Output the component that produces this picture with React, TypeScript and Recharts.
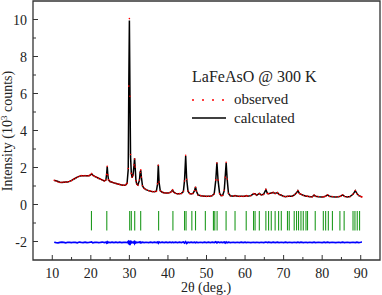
import React from 'react';
import { ComposedChart, Line, XAxis, YAxis, ReferenceLine, ReferenceArea } from 'recharts';

// [2θ, observed, calculated, difference (offset)]
const profile: [number, number, number, number][] = [
  [10.5, 1.31, 1.3, -2.04], [11.0, 1.27, 1.28, -2.06], [11.5, 1.22, 1.24, -2.07], [12.0, 1.19, 1.2, -2.05],
  [12.5, 1.2, 1.19, -2.03], [13.0, 1.21, 1.2, -2.05], [13.5, 1.2, 1.21, -2.07], [14.0, 1.23, 1.22, -2.04],
  [14.5, 1.26, 1.25, -2.05], [15.0, 1.29, 1.3, -2.06], [15.5, 1.37, 1.36, -2.04], [16.0, 1.42, 1.42, -2.05],
  [16.5, 1.47, 1.48, -2.07], [17.0, 1.53, 1.52, -2.03], [17.5, 1.56, 1.55, -2.05], [18.0, 1.55, 1.56, -2.06],
  [18.5, 1.57, 1.56, -2.04], [19.0, 1.54, 1.55, -2.06], [19.5, 1.56, 1.56, -2.05], [19.8, 1.59, 1.58, -2.04],
  [20.2, 1.67, 1.66, -2.02], [20.5, 1.57, 1.58, -2.07], [21.0, 1.52, 1.52, -2.05], [21.5, 1.48, 1.47, -2.04],
  [22.0, 1.41, 1.42, -2.06], [22.5, 1.37, 1.37, -2.05], [23.0, 1.33, 1.32, -2.03], [23.5, 1.27, 1.28, -2.06],
  [23.9, 1.33, 1.32, -2.04], [24.1, 1.63, 1.65, -2.08], [24.25, 2.07, 2.05, -2.02], [24.4, 1.6, 1.62, -2.07],
  [24.6, 1.33, 1.32, -2.04], [25.0, 1.23, 1.24, -2.06], [25.5, 1.21, 1.2, -2.04], [26.0, 1.16, 1.17, -2.06],
  [26.5, 1.15, 1.14, -2.04], [27.0, 1.1, 1.11, -2.06], [27.5, 1.09, 1.08, -2.04], [28.0, 1.05, 1.06, -2.06],
  [28.5, 1.04, 1.04, -2.05], [29.0, 1.06, 1.05, -2.04], [29.4, 1.14, 1.15, -2.06], [29.7, 1.95, 1.9, -2.0],
  [29.85, 6.4, 6.5, -2.15], [30.0, 10.05, 9.95, -1.95], [30.15, 5.85, 6.0, -2.2], [30.3, 2.7, 2.6, -1.95],
  [30.5, 1.68, 1.7, -2.07], [30.7, 1.47, 1.45, -2.03], [30.95, 1.58, 1.6, -2.07], [31.2, 2.14, 2.1, -2.01],
  [31.35, 2.46, 2.5, -2.1], [31.5, 2.03, 2.0, -2.02], [31.7, 1.28, 1.3, -2.07], [31.9, 1.11, 1.1, -2.04],
  [32.2, 1.04, 1.05, -2.06], [32.6, 1.32, 1.3, -2.03], [32.8, 1.73, 1.75, -2.07], [32.95, 1.87, 1.85, -2.03],
  [33.1, 1.48, 1.5, -2.07], [33.4, 1.01, 1.0, -2.04], [33.8, 0.87, 0.88, -2.06], [34.3, 0.81, 0.8, -2.04],
  [35.0, 0.74, 0.75, -2.06], [35.5, 0.73, 0.72, -2.04], [36.0, 0.69, 0.7, -2.06], [36.5, 0.7, 0.69, -2.04],
  [37.0, 0.71, 0.72, -2.06], [37.3, 1.12, 1.1, -2.03], [37.5, 2.12, 2.15, -2.09], [37.7, 1.22, 1.2, -2.02],
  [38.0, 0.74, 0.75, -2.06], [38.5, 0.67, 0.66, -2.04], [39.0, 0.62, 0.63, -2.06], [39.5, 0.63, 0.62, -2.04],
  [40.0, 0.61, 0.62, -2.06], [40.5, 0.65, 0.64, -2.04], [40.9, 0.69, 0.7, -2.06], [41.2, 0.79, 0.78, -2.04],
  [41.5, 0.66, 0.67, -2.06], [42.0, 0.61, 0.6, -2.04], [42.5, 0.57, 0.58, -2.06], [43.0, 0.59, 0.58, -2.04],
  [43.5, 0.59, 0.6, -2.06], [44.0, 0.72, 0.7, -2.03], [44.3, 1.27, 1.3, -2.08], [44.6, 2.66, 2.62, -2.01],
  [44.85, 1.36, 1.4, -2.1], [45.2, 0.73, 0.72, -2.04], [45.6, 0.59, 0.6, -2.06], [46.0, 0.58, 0.57, -2.04],
  [46.5, 0.59, 0.6, -2.06], [46.9, 0.76, 0.75, -2.04], [47.15, 0.93, 0.95, -2.07], [47.4, 0.73, 0.72, -2.04],
  [47.8, 0.51, 0.52, -2.06], [48.5, 0.48, 0.47, -2.04], [49.0, 0.45, 0.46, -2.06], [49.5, 0.46, 0.45, -2.04],
  [50.0, 0.43, 0.44, -2.06], [50.5, 0.45, 0.44, -2.04], [51.0, 0.44, 0.45, -2.06], [51.5, 0.49, 0.48, -2.04],
  [52.0, 0.57, 0.58, -2.06], [52.4, 1.33, 1.3, -2.02], [52.7, 2.24, 2.27, -2.08], [53.0, 1.32, 1.3, -2.03],
  [53.4, 0.59, 0.6, -2.06], [53.8, 0.49, 0.48, -2.04], [54.2, 0.49, 0.5, -2.06], [54.6, 0.77, 0.75, -2.03],
  [54.85, 1.47, 1.5, -2.08], [55.1, 2.28, 2.25, -2.02], [55.35, 1.38, 1.4, -2.07], [55.7, 0.61, 0.6, -2.04],
  [56.2, 0.46, 0.47, -2.06], [57.0, 0.46, 0.45, -2.04], [57.4, 0.47, 0.48, -2.06], [58.0, 0.46, 0.45, -2.04],
  [58.5, 0.43, 0.44, -2.06], [59.0, 0.45, 0.44, -2.04], [59.5, 0.43, 0.44, -2.06], [60.0, 0.46, 0.45, -2.04],
  [60.3, 0.47, 0.48, -2.06], [60.7, 0.46, 0.45, -2.04], [61.5, 0.47, 0.48, -2.06], [62.2, 0.59, 0.58, -2.04],
  [62.6, 0.57, 0.58, -2.06], [63.0, 0.51, 0.5, -2.04], [63.7, 0.59, 0.6, -2.06], [64.2, 0.53, 0.52, -2.04],
  [64.8, 0.54, 0.55, -2.06], [65.4, 0.82, 0.8, -2.03], [65.8, 0.59, 0.6, -2.06], [66.1, 0.59, 0.58, -2.04],
  [66.8, 0.61, 0.62, -2.06], [67.3, 0.66, 0.65, -2.04], [67.8, 0.59, 0.6, -2.06], [68.4, 0.65, 0.64, -2.04],
  [68.8, 0.54, 0.55, -2.06], [69.4, 0.51, 0.5, -2.04], [70.0, 0.43, 0.44, -2.06], [70.5, 0.43, 0.42, -2.04],
  [71.0, 0.43, 0.44, -2.06], [71.5, 0.46, 0.45, -2.04], [72.2, 0.44, 0.45, -2.06], [72.8, 0.53, 0.52, -2.04],
  [73.3, 0.61, 0.62, -2.06], [73.7, 0.76, 0.75, -2.04], [74.1, 0.59, 0.6, -2.06], [74.5, 0.56, 0.55, -2.04],
  [75.1, 0.49, 0.5, -2.06], [75.8, 0.46, 0.45, -2.04], [76.2, 0.44, 0.45, -2.06], [76.8, 0.43, 0.42, -2.04],
  [77.4, 0.41, 0.42, -2.06], [77.9, 0.51, 0.5, -2.04], [78.3, 0.44, 0.45, -2.06], [79.0, 0.43, 0.42, -2.04],
  [80.0, 0.4, 0.41, -2.06], [80.5, 0.43, 0.42, -2.04], [80.9, 0.44, 0.45, -2.06], [81.4, 0.53, 0.52, -2.04],
  [81.9, 0.43, 0.44, -2.06], [82.6, 0.43, 0.42, -2.04], [83.5, 0.4, 0.41, -2.06], [84.3, 0.43, 0.42, -2.04],
  [84.8, 0.44, 0.45, -2.06], [85.3, 0.53, 0.52, -2.04], [85.8, 0.43, 0.44, -2.06], [86.5, 0.42, 0.41, -2.04],
  [87.2, 0.42, 0.43, -2.06], [88.0, 0.56, 0.55, -2.04], [88.6, 0.76, 0.75, -2.06], [89.0, 0.59, 0.6, -2.04],
  [89.5, 0.49, 0.48, -2.06], [90.0, 0.43, 0.44, -2.04], [90.3, 0.41, 0.4, -2.02],
];

// Bragg reflection positions (2θ)
const braggPositions = [
  20.16, 24.14, 30.08, 30.5, 31.38, 32.93, 37.58, 41.29, 44.3, 44.7, 46.2, 47.15, 49.7, 51.8, 52.15, 52.75,
  55.08, 57.4, 60.3, 62.2, 62.6, 63.7, 65.4, 66.1, 66.8, 67.8, 68.7, 69.4, 71.0, 71.46, 72.75, 73.35, 73.87,
  74.5, 75.1, 75.8, 76.2, 78.2, 80.3, 80.9, 81.6, 82.66, 84.6, 85.7, 88.0, 88.5, 89.1, 89.7,
];

const xTicks = [10, 15, 20, 25, 30, 35, 40, 45, 50, 55, 60, 65, 70, 75, 80, 85, 90];
const yTicks = [-2, -1, 0, 1, 2, 3, 4, 5, 6, 7, 8, 9, 10];

const data = profile.map(([t, obs, calc, diff]) => ({ t, obs, calc, diff }));

const FONT = "'Liberation Serif', 'Times New Roman', serif";
const AXIS = '#333';
const serif = { fontFamily: FONT };

const XTick = (props: any) => {
  const { x, y, payload } = props;
  const major = payload.value % 10 === 0;
  return (
    <g>
      <line x1={x} x2={x} y1={y} y2={y - (major ? 5 : 3)} stroke={AXIS} />
      {major && (
        <text x={x} y={y + 18} textAnchor="middle" fontSize={14} style={serif} fill="#222">
          {payload.value}
        </text>
      )}
    </g>
  );
};

const YTick = (props: any) => {
  const { x, y, payload } = props;
  const major = payload.value % 2 === 0;
  return (
    <g>
      <line x1={x} x2={x + (major ? 5 : 3)} y1={y} y2={y} stroke={AXIS} />
      {major && (
        <text x={x - 6} y={y + 5} textAnchor="end" fontSize={14} style={serif} fill="#222">
          {payload.value}
        </text>
      )}
    </g>
  );
};

const YTitle = () => (
  <text transform="translate(12,131) rotate(-90)" textAnchor="middle" fontSize={14} style={serif} fill="#222">
    Intensity (10<tspan dy={-5} fontSize={9}>3</tspan><tspan dy={5}> counts)</tspan>
  </text>
);

const XTitle = () => (
  <text x={206} y={292} textAnchor="middle" fontSize={14} style={serif} fill="#222">
    2θ (deg.)
  </text>
);

const App = () => (
  <div style={{ position: 'absolute', left: 0, top: 0, width: 382, height: 295, background: '#fff' }}>
    <ComposedChart width={382} height={295} data={data} margin={{ top: 1, right: 2, bottom: 0, left: 0 }}>
      <XAxis
        dataKey="t"
        type="number"
        domain={[5, 95]}
        ticks={xTicks}
        interval={0}
        height={35}
        axisLine={false}
        tickLine={false}
        tickSize={0}
        tickMargin={0}
        tick={<XTick />}
        label={<XTitle />}
      />
      <YAxis
        type="number"
        domain={[-3, 11]}
        ticks={yTicks}
        interval={0}
        width={33}
        axisLine={false}
        tickLine={false}
        tickSize={0}
        tickMargin={0}
        tick={<YTick />}
        label={<YTitle />}
      />
      <ReferenceArea x1={5} x2={95} y1={-3} y2={11} fill="none" stroke={AXIS} strokeWidth={1.3} />
      {braggPositions.map((p) => (
        <ReferenceLine
          key={p}
          segment={[{ x: p, y: -0.35 }, { x: p, y: -1.4 }]}
          stroke="#1f9a1f"
          strokeWidth={1.1}
        />
      ))}
      <Line dataKey="diff" stroke="#0000ff" strokeWidth={1.7} dot={false} isAnimationActive={false} />
      <Line dataKey="calc" stroke="#000" strokeWidth={1.5} dot={false} isAnimationActive={false} />
      <Line
        dataKey="obs"
        stroke="none"
        dot={{ r: 0.8, fill: '#ff0000', stroke: 'none' }}
        isAnimationActive={false}
      />
    </ComposedChart>
    <svg width={382} height={295} style={{ position: 'absolute', left: 0, top: 0, pointerEvents: 'none' }}>
      <text x={192} y={82} fontSize={16} style={serif} fill="#222">
        LaFeAsO @ 300 K
      </text>
      {[193, 203, 213, 223].map((cx) => (
        <circle key={cx} cx={cx} cy={100} r={1} fill="#ff0000" />
      ))}
      <text x={234} y={104} fontSize={15} style={serif} fill="#222">
        observed
      </text>
      <line x1={192} x2={226} y1={118} y2={118} stroke="#000" strokeWidth={1.5} />
      <text x={234} y={123} fontSize={15} style={serif} fill="#222">
        calculated
      </text>
    </svg>
  </div>
);

export default App;
